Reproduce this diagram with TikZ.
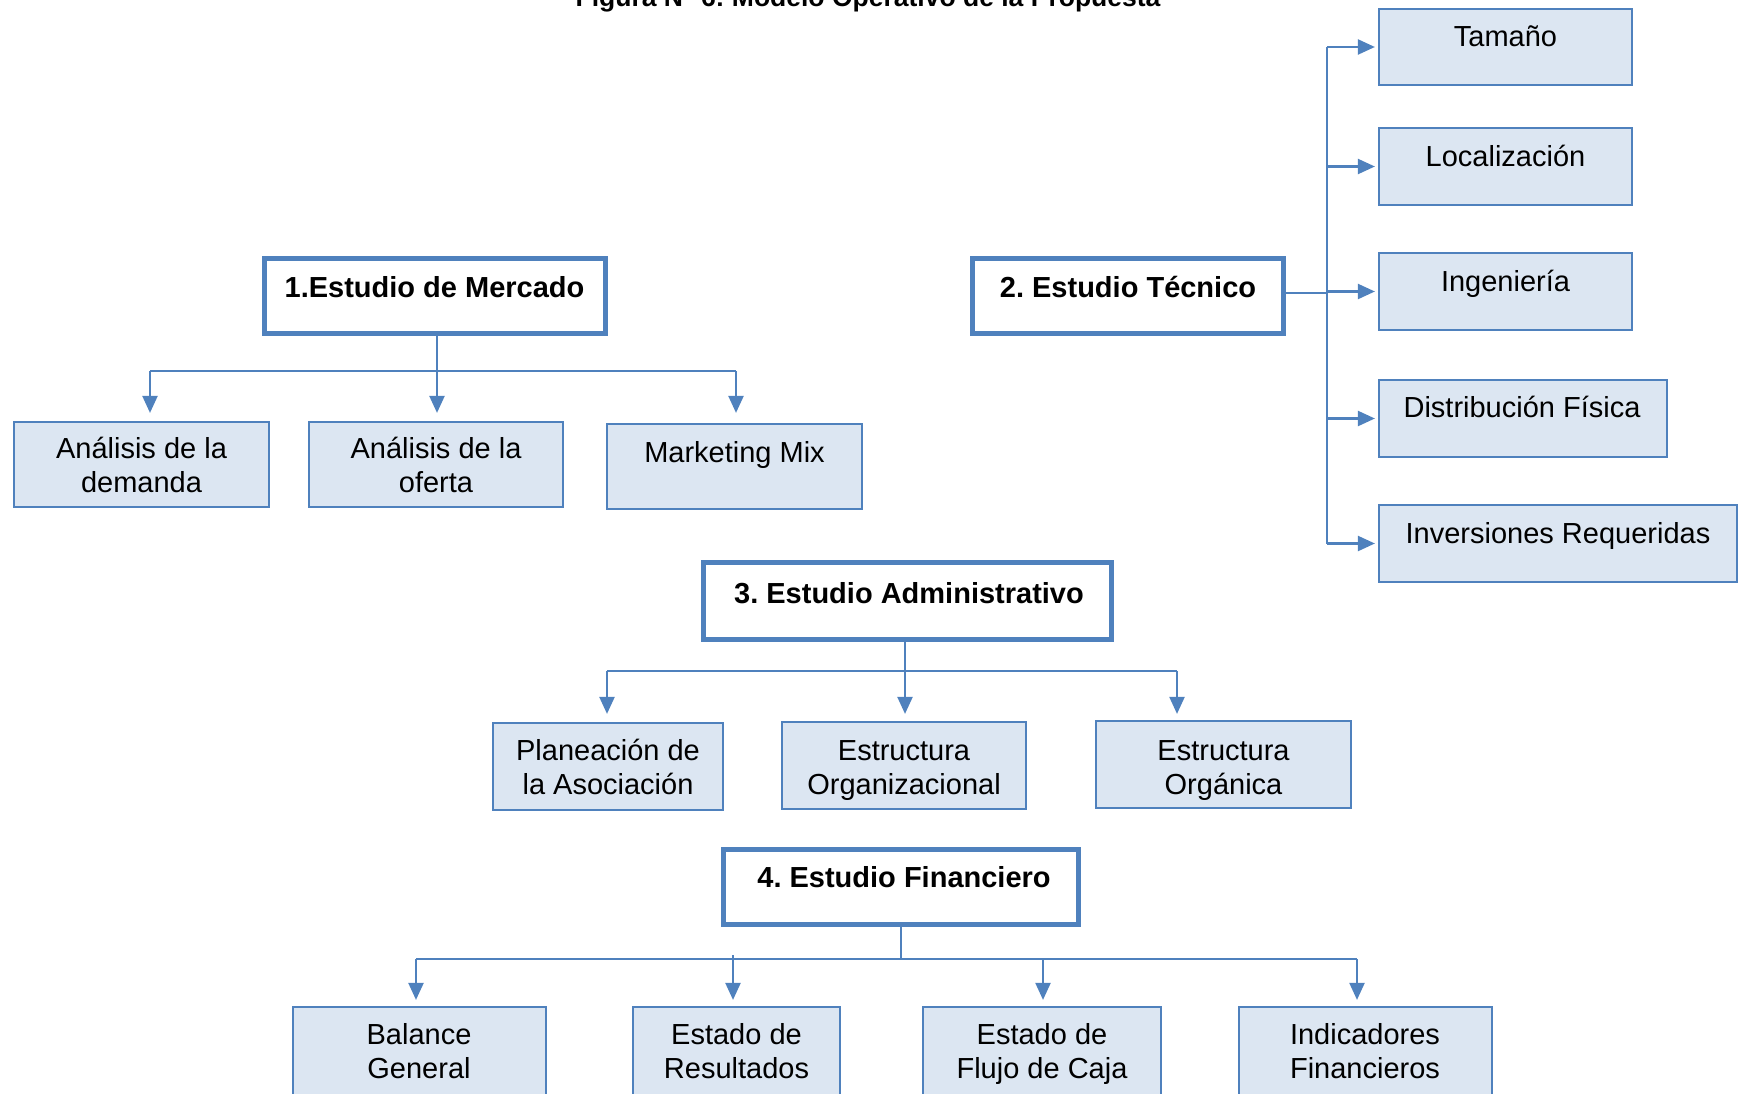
\documentclass[tikz,border=0pt]{standalone}
\usepackage{fontspec}
\setmainfont{Liberation Sans}
\usetikzlibrary{arrows.meta,calc}
\definecolor{bblue}{HTML}{4F81BD}
\definecolor{lfill}{HTML}{DCE6F2}
\frenchspacing
\begin{document}
\begin{tikzpicture}[x=1pt,y=-1pt,
  mainbox/.style={draw=bblue, line width=5.5pt, fill=white, inner sep=0pt},
  subbox/.style={draw=bblue, line width=2.2pt, fill=lfill, inner sep=0pt},
  conn/.style={draw=bblue, line width=2.2pt},
  arr/.style={draw=bblue, line width=2.2pt, -{Triangle[length=17pt,width=15pt]}},
  txt/.style={anchor=base, inner sep=0pt, font=\fontsize{29}{33}\selectfont\frenchspacing},
  btxt/.style={anchor=base, inner sep=0pt, font=\fontsize{29}{33}\selectfont\bfseries\frenchspacing}
]
\useasboundingbox (0,0) rectangle (1747,1094);

% title (cut off at the top edge, as in the reference)
\node[anchor=base, inner sep=0pt, font=\fontsize{26.5}{30}\selectfont\bfseries\frenchspacing] (title) at (868,7) {Figura N° 6: Modelo Operativo de la Propuesta};

% main boxes
\node[mainbox, minimum width=341pt, minimum height=75pt] (m1) at (435,296) {};
\node[mainbox, minimum width=311pt, minimum height=75pt] (m2) at (1128,296) {};
\node[mainbox, minimum width=408pt, minimum height=77pt] (m3) at (907.5,601) {};
\node[mainbox, minimum width=355pt, minimum height=75pt] (m4) at (901,887) {};

% row 1
\node[subbox, minimum width=255pt, minimum height=85pt] (a1) at (141.5,464.5) {};
\node[subbox, minimum width=254pt, minimum height=85pt] (a2) at (436,464.5) {};
\node[subbox, minimum width=255pt, minimum height=85pt] (a3) at (734.5,466.5) {};

% technical
\node[subbox, minimum width=253pt, minimum height=76pt] (t1) at (1505.5,47) {};
\node[subbox, minimum width=253pt, minimum height=77pt] (t2) at (1505.5,166.5) {};
\node[subbox, minimum width=253pt, minimum height=77pt] (t3) at (1505.5,291.5) {};
\node[subbox, minimum width=288pt, minimum height=77pt] (t4) at (1523,418.5) {};
\node[subbox, minimum width=358pt, minimum height=77pt] (t5) at (1558,543.5) {};

% administrative
\node[subbox, minimum width=230pt, minimum height=87pt] (d1) at (608,766.5) {};
\node[subbox, minimum width=244pt, minimum height=87pt] (d2) at (904,765.5) {};
\node[subbox, minimum width=255pt, minimum height=87pt] (d3) at (1223.5,764.5) {};

% financial
\node[subbox, minimum width=253pt, minimum height=112pt] (f1) at (419.5,1063) {};
\node[subbox, minimum width=207pt, minimum height=112pt] (f2) at (736.5,1063) {};
\node[subbox, minimum width=238pt, minimum height=112pt] (f3) at (1042,1063) {};
\node[subbox, minimum width=253pt, minimum height=112pt] (f4) at (1365.5,1063) {};

% texts
\node[btxt] (m1t) at (434.5,297) {1.Estudio de Mercado};
\node[btxt] (m2t) at (1128,297) {2. Estudio Técnico};
\node[btxt] (m3t) at (909,603) {3. Estudio Administrativo};
\node[btxt] (m4t) at (904,887) {4. Estudio Financiero};

\node[txt] (a1t1) at (141.5,458) {Análisis de la};
\node[txt] (a1t2) at (141.5,492) {demanda};
\node[txt] (a2t1) at (436,458) {Análisis de la};
\node[txt] (a2t2) at (436,492) {oferta};
\node[txt] (a3t) at (734.5,462) {Marketing Mix};

\node[txt] (t1t) at (1505.5,47) {Tamaño};
\node[txt] (t2t) at (1505.5,167) {Localización};
\node[txt] (t3t) at (1505.5,291) {Ingeniería};
\node[txt] (t4t) at (1522,417) {Distribución Física};
\node[txt] (t5t) at (1558,543) {Inversiones Requeridas};

\node[txt] (d1t1) at (608,760) {Planeación de};
\node[txt] (d1t2) at (608,794) {la Asociación};
\node[txt] (d2t1) at (904,760) {Estructura};
\node[txt] (d2t2) at (904,794) {Organizacional};
\node[txt] (d3t1) at (1223.5,760) {Estructura};
\node[txt] (d3t2) at (1223.5,794) {Orgánica};

\node[txt] (f1t1) at (419,1044) {Balance};
\node[txt] (f1t2) at (419,1078) {General};
\node[txt] (f2t1) at (736.5,1044) {Estado de};
\node[txt] (f2t2) at (736.5,1078) {Resultados};
\node[txt] (f3t1) at (1042,1044) {Estado de};
\node[txt] (f3t2) at (1042,1078) {Flujo de Caja};
\node[txt] (f4t1) at (1365,1044) {Indicadores};
\node[txt] (f4t2) at (1365,1078) {Financieros};

% connectors: market
\coordinate (b1l) at (150,371);
\coordinate (b1c) at (437,371);
\coordinate (b1r) at (736,371);
\draw[conn] (b1c |- m1.south) -- (b1c);
\draw[conn] (b1l) -- (b1r);
\draw[arr, shorten >=8pt] (b1l) -- (b1l |- a1.north);
\draw[arr, shorten >=8pt] (b1c) -- (b1c |- a2.north);
\draw[arr, shorten >=10pt] (b1r) -- (b1r |- a3.north);

% connectors: technical
\coordinate (b2) at (1327,0);
\draw[conn] (m2.east |- 0,293) -- (b2 |- 0,293);
\draw[conn] (b2 |- t1.west) -- (b2 |- t5.west);
\draw[arr, shorten >=3pt] (b2 |- t1.west) -- (t1.west);
\draw[arr, shorten >=3pt] (b2 |- t2.west) -- (t2.west);
\draw[arr, shorten >=3pt] (b2 |- t3.west) -- (t3.west);
\draw[arr, shorten >=3pt] (b2 |- t4.west) -- (t4.west);
\draw[arr, shorten >=3pt] (b2 |- t5.west) -- (t5.west);

% connectors: administrative
\coordinate (b3l) at (607,671);
\coordinate (b3c) at (905,671);
\coordinate (b3r) at (1177,671);
\draw[conn] (b3c |- m3.south) -- (b3c);
\draw[conn] (b3l) -- (b3r);
\draw[arr, shorten >=8pt] (b3l) -- (b3l |- d1.north);
\draw[arr, shorten >=7pt] (b3c) -- (b3c |- d2.north);
\draw[arr, shorten >=6pt] (b3r) -- (b3r |- d3.north);

% connectors: financial
\coordinate (b4a) at (416,959);
\coordinate (b4b) at (733,959);
\coordinate (b4c) at (1043,959);
\coordinate (b4d) at (1357,959);
\draw[conn] (m4.south) -- (m4.south |- b4a);
\draw[conn] (b4a) -- (b4d);
\draw[arr, shorten >=6pt] (b4a) -- (b4a |- f1.north);
\draw[arr, shorten >=6pt] ($(b4b)+(0,-4)$) -- (b4b |- f2.north);
\draw[arr, shorten >=6pt] (b4c) -- (b4c |- f3.north);
\draw[arr, shorten >=6pt] (b4d) -- (b4d |- f4.north);
\end{tikzpicture}
\end{document}
